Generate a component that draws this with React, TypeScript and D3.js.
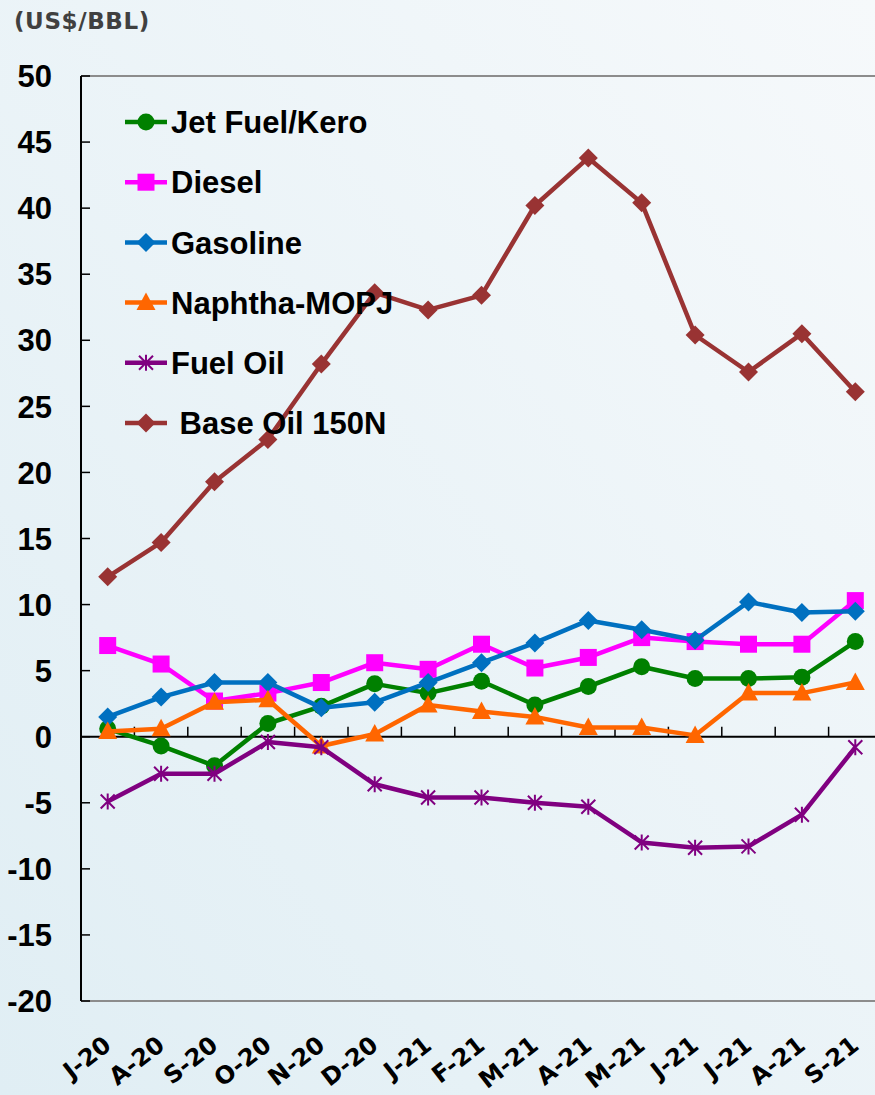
import React from 'react';
import * as d3 from 'd3';

const months = ['J-20', 'A-20', 'S-20', 'O-20', 'N-20', 'D-20', 'J-21', 'F-21', 'M-21', 'A-21', 'M-21', 'J-21', 'J-21', 'A-21', 'S-21'];
const jetFuel = [0.6, -0.7, -2.2, 1.0, 2.3, 4.0, 3.3, 4.2, 2.4, 3.8, 5.3, 4.4, 4.4, 4.5, 7.2];
const diesel = [6.9, 5.5, 2.7, 3.3, 4.1, 5.6, 5.1, 7.0, 5.2, 6.0, 7.5, 7.2, 7.0, 7.0, 10.3];
const gasoline = [1.5, 3.0, 4.1, 4.1, 2.2, 2.6, 4.1, 5.6, 7.1, 8.8, 8.1, 7.3, 10.2, 9.4, 9.5];
const naphtha = [0.4, 0.6, 2.6, 2.8, -0.7, 0.2, 2.4, 1.9, 1.5, 0.7, 0.7, 0.1, 3.3, 3.3, 4.1];
const fuelOil = [-4.9, -2.8, -2.8, -0.4, -0.8, -3.6, -4.6, -4.6, -5.0, -5.3, -8.0, -8.4, -8.3, -5.9, -0.8];
const baseOil = [12.1, 14.7, 19.3, 22.5, 28.2, 33.6, 32.3, 33.4, 40.2, 43.8, 40.4, 30.4, 27.6, 30.5, 26.1];
const yTicks = [50, 45, 40, 35, 30, 25, 20, 15, 10, 5, 0, -5, -10, -15, -20];

type Marker = 'circle' | 'square' | 'diamond' | 'triangle' | 'star';

const series: { name: string; values: number[]; color: string; marker: Marker }[] = [
  { name: 'Jet Fuel/Kero', values: jetFuel, color: '#008000', marker: 'circle' },
  { name: 'Diesel', values: diesel, color: '#ff00ff', marker: 'square' },
  { name: 'Gasoline', values: gasoline, color: '#0070c0', marker: 'diamond' },
  { name: 'Naphtha-MOPJ', values: naphtha, color: '#ff6600', marker: 'triangle' },
  { name: 'Fuel Oil', values: fuelOil, color: '#800080', marker: 'star' },
  { name: ' Base Oil 150N', values: baseOil, color: '#993333', marker: 'diamond' },
];

const W = 875;
const H = 1095;
const margin = { top: 76, right: -7, bottom: 94, left: 81 };

const drawMarker = (type: Marker, x: number, y: number, color: string, key?: React.Key) => {
  switch (type) {
    case 'circle':
      return <circle key={key} cx={x} cy={y} r={8.5} fill={color} />;
    case 'square':
      return <rect key={key} x={x - 8.5} y={y - 8.5} width={17} height={17} fill={color} />;
    case 'diamond':
      return <path key={key} d={`M${x},${y - 9.5}L${x + 9.5},${y}L${x},${y + 9.5}L${x - 9.5},${y}Z`} fill={color} />;
    case 'triangle':
      return <path key={key} d={`M${x},${y - 10}L${x + 9.5},${y + 7.5}L${x - 9.5},${y + 7.5}Z`} fill={color} />;
    case 'star':
      return (
        <path
          key={key}
          d={`M${x},${y - 8}L${x},${y + 8}M${x - 7},${y - 7}L${x + 7},${y + 7}M${x - 7},${y + 7}L${x + 7},${y - 7}`}
          stroke={color}
          strokeWidth={2}
          fill="none"
        />
      );
  }
};

const App: React.FC = () => {
  const plotRight = W - margin.right;
  const plotBottom = H - margin.bottom;

  const x = d3.scaleBand<number>()
    .domain(months.map((_, i) => i))
    .range([margin.left, plotRight])
    .padding(0);

  const y = d3.scaleLinear()
    .domain([-20, 50])
    .range([plotBottom, margin.top]);

  const cx = (i: number) => (x(i) ?? 0) + x.bandwidth() / 2;

  const line = d3.line<number>()
    .x((_, i) => cx(i))
    .y(d => y(d));

  const legendTop = 122;
  const legendStep = 60.2;

  return (
    <svg width={W} height={H} style={{ position: 'absolute', left: 0, top: 0, display: 'block' }}>
      <defs>
        <linearGradient id="bg" x1="0" y1="1" x2="1" y2="0">
          <stop offset="0" stopColor="#e0eef4" />
          <stop offset="1" stopColor="#f6f9fb" />
        </linearGradient>
      </defs>
      <rect x={0} y={0} width={W} height={H} fill="url(#bg)" />

      <text x={14} y={29} fontFamily="DejaVu Sans" fontWeight="bold" fontSize={23} fill="#404040" letterSpacing={0.6}>
        (US$/BBL)
      </text>

      {/* plot frame */}
      <line x1={margin.left} x2={plotRight} y1={margin.top} y2={margin.top} stroke="#8c8c8c" strokeWidth={2} />
      <line x1={margin.left} x2={plotRight} y1={plotBottom} y2={plotBottom} stroke="#8c8c8c" strokeWidth={2} />

      {/* y axis */}
      <line x1={margin.left} x2={margin.left} y1={margin.top} y2={plotBottom} stroke="#000" strokeWidth={2} />
      {yTicks.map(t => (
        <g key={t}>
          <line x1={margin.left} x2={margin.left + 9} y1={y(t)} y2={y(t)} stroke="#000" strokeWidth={1.5} />
          <text x={52} y={y(t)} dy="0.36em" textAnchor="end" fontFamily="Liberation Sans" fontWeight="bold" fontSize={31} fill="#000">
            {t}
          </text>
        </g>
      ))}

      {/* zero line with category ticks */}
      <line x1={margin.left} x2={plotRight} y1={y(0)} y2={y(0)} stroke="#000" strokeWidth={2} />
      {months.map((_, i) => (
        i > 0 ? <line key={i} x1={x(i)} x2={x(i)} y1={y(0)} y2={y(0) - 10} stroke="#000" strokeWidth={1.5} /> : null
      ))}

      {/* x labels */}
      {months.map((m, i) => (
        <text
          key={i}
          transform={`translate(${cx(i) + 5},${plotBottom + 47}) rotate(-38)`}
          textAnchor="end"
          fontFamily="DejaVu Sans"
          fontWeight="bold"
          fontSize={24}
          fill="#000"
        >
          {m}
        </text>
      ))}

      {/* series */}
      {series.map(s => (
        <g key={s.name}>
          <path d={line(s.values) ?? ''} fill="none" stroke={s.color} strokeWidth={4.5} strokeLinejoin="round" />
          {s.values.map((v, i) => drawMarker(s.marker, cx(i), y(v), s.color, i))}
        </g>
      ))}

      {/* legend */}
      {series.map((s, i) => {
        const ly = legendTop + i * legendStep;
        return (
          <g key={s.name}>
            <line x1={125} x2={167} y1={ly} y2={ly} stroke={s.color} strokeWidth={4.5} />
            {drawMarker(s.marker, 146, ly, s.color)}
            <text x={171} y={ly} dy="0.36em" fontFamily="Liberation Sans" fontWeight="bold" fontSize={31} fill="#000" style={{ whiteSpace: 'pre' }}>
              {s.name}
            </text>
          </g>
        );
      })}
    </svg>
  );
};

export default App;
